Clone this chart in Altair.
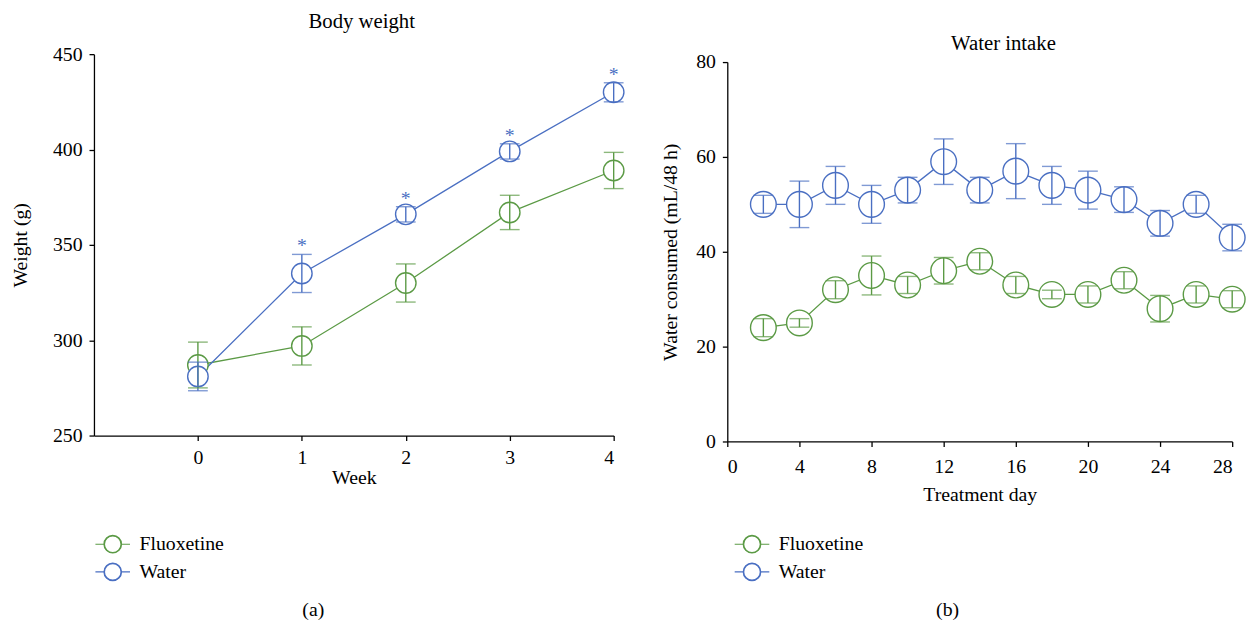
import altair as alt
import pandas as pd

# ---------------- data ----------------
groups = ["Fluoxetine", "Water"]

weeks = [0, 1, 2, 3, 4]
flu_weight = [287, 297, 330, 367, 389]
flu_weight_sem = [12, 10, 10, 9, 9.5]
water_weight = [281, 335, 366, 399, 430]
water_weight_sem = [7.5, 10, 4, 4, 5]
water_sig = ["", "*", "*", "*", "*"]

days = [2, 4, 6, 8, 10, 12, 14, 16, 18, 20, 22, 24, 26, 28]
water_intake = [50, 50, 54, 50, 53, 59, 53, 57, 54, 53, 51, 46, 50, 43]
water_intake_sem = [1.9, 4.9, 4, 4, 2.7, 4.8, 2.7, 5.8, 4, 4, 2.7, 2.7, 1.9, 2.8]
flu_intake = [24, 25, 32, 35, 33, 36, 38, 33, 31, 31, 34, 28, 31, 30]
flu_intake_sem = [1.9, 0.9, 1.9, 4.1, 1.8, 2.8, 1.8, 1.8, 0.9, 1.8, 1.8, 2.8, 1.8, 1.8]

colors = ["#5b9a45", "#4a6fc2"]
FONT = "Liberation Serif"
FS = 20

def frame(x, fv, fs, wv, ws, xname):
    rows = []
    for i, xv in enumerate(x):
        rows.append({xname: xv, "group": "Fluoxetine", "v": fv[i], "lo": fv[i] - fs[i], "hi": fv[i] + fs[i]})
    for i, xv in enumerate(x):
        rows.append({xname: xv, "group": "Water", "v": wv[i], "lo": wv[i] - ws[i], "hi": wv[i] + ws[i]})
    return pd.DataFrame(rows)

df_a = frame(weeks, flu_weight, flu_weight_sem, water_weight, water_weight_sem, "week")
df_a["sig"] = [""] * len(weeks) + water_sig
df_b = frame(days, flu_intake, flu_intake_sem, water_intake, water_intake_sem, "day")

color_scale = alt.Scale(domain=groups, range=colors)
# line segments + a thin ring (hollow even when the legend fills the symbol);
# drawn wider than its nominal box so the legend rows stay compact
legend_symbol = ("M-1.46,0H-0.74M0.74,0H1.46"
                 "M0.74,0A0.74,0.74,0,1,1,-0.74,0A0.74,0.74,0,1,1,0.74,0Z"
                 "M0.70,0A0.70,0.70,0,1,0,-0.70,0A0.70,0.70,0,1,0,0.70,0Z")

def legend(x, y):
    return alt.Legend(
        title=None, orient="none", legendX=x, legendY=y,
        symbolType=legend_symbol, symbolSize=576, symbolStrokeWidth=1.2,
        labelFont=FONT, labelFontSize=FS, labelColor="black",
        labelOffset=14, rowPadding=3,
    )

def col(leg=None):
    if leg is None:
        return alt.Color("group:N", scale=color_scale, legend=None)
    return alt.Color("group:N", scale=color_scale, legend=leg)

# ---------------- panel (a) ----------------
WA, HA = 526, 386
xa = alt.X("week:Q", scale=alt.Scale(domain=[-1, 4], nice=False),
           axis=alt.Axis(values=weeks, title="Week", format="d",
                         labelPadding=7, titlePadding=1))
ya = alt.Y("v:Q", scale=alt.Scale(domain=[250, 450], nice=False),
           axis=alt.Axis(values=[250, 300, 350, 400, 450], title="Weight (g)",
                         labelPadding=7, titlePadding=22))
base_a = alt.Chart(df_a)
line_a = base_a.mark_line(strokeWidth=1.3).encode(x=xa, y=ya, color=col(legend(6, 483)))
pts_a = base_a.mark_point(shape="circle", size=430, filled=False, fill="white",
                          opacity=1, strokeWidth=1.4).encode(x="week:Q", y="v:Q", color=col())
rule_a = base_a.mark_rule(strokeWidth=1.4).encode(x="week:Q", y="lo:Q", y2="hi:Q", color=col())
caplo_a = base_a.mark_tick(orient="horizontal", size=20, thickness=1.4).encode(
    x="week:Q", y="lo:Q", color=col())
caphi_a = base_a.mark_tick(orient="horizontal", size=20, thickness=1.4).encode(
    x="week:Q", y="hi:Q", color=col())
star_a = base_a.mark_text(font=FONT, fontSize=FS, baseline="middle", dy=-8,
                          color=colors[1]).encode(x="week:Q", y="hi:Q", text="sig:N")
lab_a = alt.Chart(pd.DataFrame({"t": ["(a)"]})).mark_text(
    font=FONT, fontSize=FS, baseline="middle").encode(
    text="t:N", x=alt.value(222), y=alt.value(563))

panel_a = alt.layer(line_a, pts_a, rule_a, caplo_a, caphi_a, star_a, lab_a).properties(
    width=WA, height=HA,
    title=alt.TitleParams("Body weight", font=FONT, fontSize=21, fontWeight="normal",
                          color="black", anchor="middle", offset=12, dx=8))

# ---------------- panel (b) ----------------
WB, HB = 511, 392
xb = alt.X("day:Q", scale=alt.Scale(domain=[0, 28], nice=False),
           axis=alt.Axis(values=list(range(0, 29, 2)), title="Treatment day",
                         labelExpr="datum.value % 4 == 0 ? datum.label : ''",
                         labelPadding=10, titlePadding=9))
yb = alt.Y("v:Q", scale=alt.Scale(domain=[0, 80], nice=False, range=[HB, 8]),
           axis=alt.Axis(values=[0, 20, 40, 60, 80], title="Water consumed (mL/48 h)",
                         labelPadding=7, titlePadding=15))
base_b = alt.Chart(df_b)
line_b = base_b.mark_line(strokeWidth=1.3).encode(x=xb, y=yb, color=col(legend(12, 483)))
pts_b = base_b.mark_point(shape="circle", size=676, filled=False, fill="white",
                          opacity=1, strokeWidth=1.4).encode(x="day:Q", y="v:Q", color=col())
rule_b = base_b.mark_rule(strokeWidth=1.4).encode(x="day:Q", y="lo:Q", y2="hi:Q", color=col())
caplo_b = base_b.mark_tick(orient="horizontal", size=20, thickness=1.4).encode(
    x="day:Q", y="lo:Q", color=col())
caphi_b = base_b.mark_tick(orient="horizontal", size=20, thickness=1.4).encode(
    x="day:Q", y="hi:Q", color=col())
lab_b = alt.Chart(pd.DataFrame({"t": ["(b)"]})).mark_text(
    font=FONT, fontSize=FS, baseline="middle").encode(
    text="t:N", x=alt.value(223), y=alt.value(563))

panel_b = alt.layer(line_b, pts_b, rule_b, caplo_b, caphi_b, lab_b).properties(
    width=WB, height=HB,
    title=alt.TitleParams("Water intake", font=FONT, fontSize=21, fontWeight="normal",
                          color="black", anchor="middle", offset=-2, dx=24))

chart = alt.hconcat(panel_a, panel_b, spacing=34).resolve_scale(
    color="independent").resolve_legend(color="independent").properties(
    background="white",
    padding={"left": 3, "top": 0, "right": 0, "bottom": 0},
).configure_view(stroke=None).configure_axis(
    grid=False, domainColor="black", domainWidth=1.3, tickColor="black", tickWidth=1.3,
    tickSize=5, labelFont=FONT, labelFontSize=FS, labelColor="black",
    titleFont=FONT, titleFontSize=FS, titleFontWeight="normal", titleColor="black",
)

chart.save("out.html", embed_options={"renderer": "svg", "actions": False})
